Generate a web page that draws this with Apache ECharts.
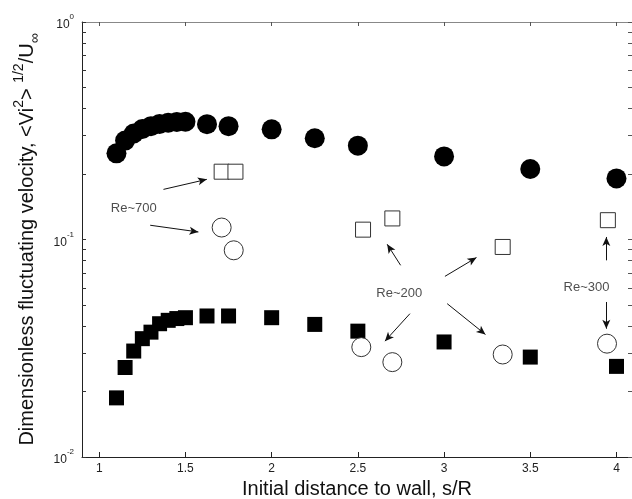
<!DOCTYPE html>
<html>
<head>
<meta charset="utf-8">
<script src="https://cdn.jsdelivr.net/npm/echarts@6/dist/echarts.min.js"></script>
<style>
html,body{margin:0;padding:0;background:#fff;}
#chart{width:632px;height:499px;}
</style>
</head>
<body>
<div id="chart"></div>
<script>
/*数据 s/R , <Vi^2>^1/2/U*/
var filledCircles = [[1.1,0.249],[1.15,0.285],[1.2,0.307],[1.25,0.322],[1.3,0.332],[1.35,0.340],[1.4,0.344],
    [1.45,0.347],[1.5,0.348],[1.625,0.339],[1.75,0.332],[2.0,0.321],[2.25,0.292],[2.5,0.270],[3.0,0.241],[3.5,0.211],[4.0,0.191]];
var filledSquares = [[1.1,0.0187],[1.15,0.0258],[1.2,0.0307],[1.25,0.0350],[1.3,0.0375],[1.35,0.0410],[1.4,0.0425],
    [1.45,0.0433],[1.5,0.0437],[1.625,0.0445],[1.75,0.0445],[2.0,0.0437],[2.25,0.0407],[2.5,0.0379],[3.0,0.0338],[3.5,0.0288],[4.0,0.0261]];
var openSquares = [[1.71,0.205],[1.79,0.205],[2.53,0.111],[2.70,0.125],[3.34,0.0924],[3.95,0.1227]];
var openCircles = [[1.71,0.1135],[1.78,0.0892],[2.52,0.0320],[2.70,0.0273],[3.34,0.0296],[3.945,0.0332]];

/*刻度*/
var xTicks = [1,1.5,2,2.5,3,3.5,4];
var yLabels = [0.01,0.1,1];
var yTicks = [0.01,0.02,0.03,0.04,0.05,0.06,0.07,0.08,0.09,0.1,0.2,0.3,0.4,0.5,0.6,0.7,0.8,0.9,1];

/*注释*/
var noteText = ['Re~700','Re~200','Re~300'];
var notePos = [[1.2,0.1388],[2.74,0.0568],[3.826,0.0605]];
var arrows = [
    [[1.3725,0.170],[1.624,0.189]],
    [[1.2955,0.1163],[1.575,0.1083]],
    [[2.748,0.0761],[2.670,0.0951]],
    [[2.802,0.0456],[2.657,0.0341]],
    [[3.005,0.0677],[3.188,0.0826]],
    [[3.018,0.0507],[3.240,0.0366]],
    [[3.941,0.0802],[3.941,0.1027]],
    [[3.941,0.0516],[3.941,0.0389]]
];

var font = 'Liberation Sans, Arial, Helvetica, sans-serif';

function yLabel(v) {
    var p = Math.round(Math.log10(v));
    return '{b|10}{s|' + p + '}';
}

var myChart = echarts.init(document.getElementById('chart'));

var option = {
    animation: false,
    backgroundColor: '#fff',
    textStyle: {fontFamily: font},
    grid: {left: 82, top: 22, right: 0, bottom: 42, outerBoundsMode: 'none', containLabel: false},
    xAxis: [{
        type: 'value', min: 0.9, max: 4.09, position: 'bottom',
        name: 'Initial distance to wall, s/R', nameLocation: 'middle', nameGap: 19,
        nameTextStyle: {fontSize: 20, color: '#111', fontFamily: font},
        axisLine: {show: true, lineStyle: {color: '#222', width: 1}},
        axisTick: {show: true, inside: true, length: 5, customValues: xTicks, lineStyle: {color: '#222'}},
        axisLabel: {customValues: xTicks, fontSize: 12, color: '#222', margin: 6, fontFamily: font},
        splitLine: {show: false}
    }, {
        type: 'value', min: 0.9, max: 4.09, position: 'top',
        axisLine: {show: true, lineStyle: {color: '#888', width: 1}},
        axisTick: {show: true, inside: true, length: 4, customValues: xTicks, lineStyle: {color: '#555'}},
        axisLabel: {show: false},
        splitLine: {show: false}
    }],
    yAxis: [{
        type: 'log', min: 0.01, max: 1, logBase: 10, position: 'left',
        name: 'Dimensionless fluctuating velocity, <Vi{sup|2}> {sup|1/2}/U{sub|∞}',
        nameLocation: 'middle', nameGap: 40, nameRotate: 90,
        nameTextStyle: {
            fontSize: 20, color: '#111', fontFamily: font, lineHeight: 30,
            rich: {
                sup: {fontSize: 14, fontFamily: font, color: '#111', verticalAlign: 'top', lineHeight: 14},
                sub: {fontSize: 14, fontFamily: font, color: '#111', verticalAlign: 'bottom', lineHeight: 14}
            }
        },
        axisLine: {show: true, lineStyle: {color: '#222', width: 1}},
        axisTick: {show: true, inside: true, length: 4, customValues: yTicks, lineStyle: {color: '#333'}},
        axisLabel: {
            customValues: yLabels, margin: 8, formatter: yLabel,
            rich: {
                b: {fontSize: 12, color: '#222', fontFamily: font, padding: [6, 0, 0, 0]},
                s: {fontSize: 8, color: '#222', fontFamily: font, verticalAlign: 'top'}
            }
        },
        splitLine: {show: false}
    }, {
        type: 'log', min: 0.01, max: 1, logBase: 10, position: 'right',
        axisLine: {show: true, lineStyle: {color: '#888', width: 1}},
        axisTick: {show: true, inside: true, length: 4, customValues: yTicks, lineStyle: {color: '#555'}},
        axisLabel: {show: false},
        splitLine: {show: false}
    }],
    series: [{
        name: 'filled circles', type: 'scatter', data: filledCircles,
        symbol: 'circle', symbolSize: 20,
        itemStyle: {color: '#000', opacity: 1}, z: 3
    }, {
        name: 'filled squares', type: 'scatter', data: filledSquares,
        symbol: 'rect', symbolSize: 15,
        itemStyle: {color: '#000', opacity: 1}, z: 3
    }, {
        name: 'open squares', type: 'scatter', data: openSquares,
        symbol: 'rect', symbolSize: 15,
        itemStyle: {color: '#fff', borderColor: '#333', borderWidth: 1, opacity: 1}, z: 4
    }, {
        name: 'open circles', type: 'scatter', data: openCircles,
        symbol: 'circle', symbolSize: 19,
        itemStyle: {color: '#fff', borderColor: '#333', borderWidth: 1, opacity: 1}, z: 4
    }, {
        name: 'notes', type: 'scatter', symbolSize: 0, silent: true, z: 5,
        data: notePos.map(function (p, i) { return {name: noteText[i], value: p}; }),
        label: {show: true, position: 'inside', formatter: '{b}', fontSize: 13, color: '#222', fontFamily: font},
        markLine: {
            silent: true, symbol: ['none', 'arrow'], symbolSize: [6, 9], precision: 4,
            label: {show: false},
            lineStyle: {color: '#111', width: 1, type: 'solid'},
            data: arrows.map(function (a) { return [{coord: a[0]}, {coord: a[1]}]; })
        }
    }]
};

myChart.setOption(option);
</script>
</body>
</html>
